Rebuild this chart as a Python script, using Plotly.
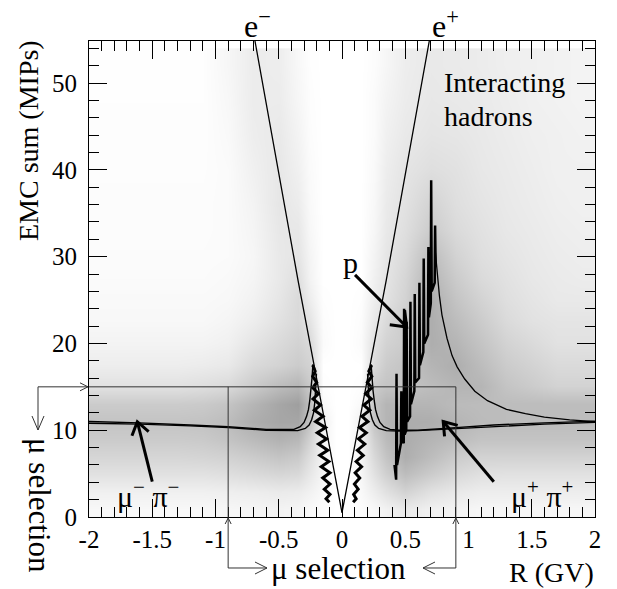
import math
import plotly.graph_objects as go

# ---------------- data ----------------
# density of the scatter cloud (0 = empty, 9 = densest), rows = EMC centres, cols = R centres
dens_R = [-1.9, -1.7, -1.5, -1.3, -1.1, -0.9, -0.7, -0.5, -0.35, -0.25, -0.15, -0.05,
          0.05, 0.15, 0.25, 0.35, 0.5, 0.7, 0.9, 1.1, 1.3, 1.5, 1.7, 1.9]
dens_E = [1, 3, 5, 7, 9, 11, 13, 15, 17.5, 20, 22.5, 25, 27.5, 30, 33, 36, 40, 44, 48, 52]
dens_Z = [
    [0.5, 0.5, 0.5, 0.5, 0.5, 0.6, 0.7, 0.8, 0.7, 0.4, 0.2, 0, 0, 0.2, 0.5, 0.9, 1.5, 1.0, 0.8, 0.6, 0.6, 0.6, 0.6, 0.6],
    [1.0, 1.0, 1.0, 1.0, 1.0, 1.1, 1.2, 1.4, 1.3, 0.9, 0.4, 0, 0, 0.4, 1.2, 2.0, 3.0, 2.0, 1.5, 1.2, 1.2, 1.2, 1.2, 1.2],
    [2.0, 2.0, 2.0, 2.0, 2.0, 2.2, 2.5, 2.8, 2.6, 1.6, 0.6, 0, 0, 0.6, 2.0, 3.2, 4.5, 3.5, 2.6, 2.1, 2.0, 2.0, 2.0, 2.0],
    [2.8, 2.8, 2.8, 2.8, 2.9, 3.1, 3.5, 4.0, 3.6, 2.2, 0.7, 0, 0, 0.7, 2.6, 4.0, 5.5, 4.5, 3.5, 3.0, 3.0, 3.0, 3.0, 3.0],
    [3.5, 3.5, 3.5, 3.5, 3.6, 4.0, 4.6, 5.2, 4.8, 3.0, 0.8, 0, 0, 0.8, 3.2, 4.6, 5.6, 5.0, 4.5, 4.0, 4.0, 4.0, 4.0, 4.0],
    [4.0, 4.0, 4.0, 4.0, 4.1, 4.5, 5.5, 6.0, 6.0, 4.0, 1.0, 0, 0, 1.0, 4.0, 5.0, 5.6, 5.5, 5.0, 4.6, 4.5, 4.5, 4.5, 4.5],
    [3.5, 3.5, 3.5, 3.5, 3.6, 4.0, 5.0, 6.0, 6.5, 4.2, 0.4, 0, 0, 0.4, 4.0, 5.0, 5.0, 5.0, 4.6, 4.5, 4.5, 4.5, 4.5, 4.5],
    [2.0, 2.0, 2.0, 2.0, 2.2, 2.5, 3.5, 4.5, 5.0, 3.6, 0.1, 0, 0, 0.1, 3.5, 4.0, 4.0, 4.5, 5.0, 5.0, 4.0, 3.5, 3.0, 3.0],
    [1.2, 1.2, 1.2, 1.2, 1.3, 1.5, 2.5, 3.0, 3.5, 3.0, 0, 0, 0, 0, 2.5, 3.5, 4.0, 5.0, 5.5, 4.5, 3.5, 3.0, 2.5, 2.5],
    [0.8, 0.8, 0.8, 0.8, 0.8, 1.0, 1.8, 2.5, 3.0, 2.5, 0.3, 0, 0, 0.3, 2.0, 3.0, 3.5, 5.5, 5.0, 4.0, 3.0, 2.5, 2.0, 2.0],
    [0.5, 0.5, 0.5, 0.5, 0.5, 0.7, 1.2, 2.0, 2.6, 1.8, 0.2, 0, 0, 0.2, 1.5, 2.5, 3.5, 5.5, 4.5, 3.5, 2.5, 2.0, 1.8, 1.8],
    [0.4, 0.4, 0.4, 0.4, 0.4, 0.5, 0.9, 1.7, 2.5, 1.2, 0.1, 0, 0, 0.1, 1.2, 2.0, 3.0, 5.5, 4.0, 3.0, 2.2, 1.8, 1.5, 1.5],
    [0.3, 0.3, 0.3, 0.3, 0.3, 0.4, 0.7, 1.5, 2.2, 0.8, 0, 0, 0, 0, 1.0, 1.8, 2.8, 5.0, 3.5, 2.5, 2.0, 1.6, 1.4, 1.3],
    [0.25, 0.25, 0.25, 0.25, 0.25, 0.3, 0.6, 1.5, 1.8, 0.7, 0, 0, 0, 0, 0.8, 1.7, 2.5, 4.5, 3.0, 2.2, 1.8, 1.5, 1.3, 1.2],
    [0.2, 0.2, 0.2, 0.2, 0.2, 0.3, 0.7, 1.6, 1.6, 0.5, 0, 0, 0, 0, 0.6, 1.5, 2.2, 3.5, 2.5, 2.0, 1.6, 1.4, 1.2, 1.1],
    [0.2, 0.2, 0.2, 0.2, 0.2, 0.3, 0.8, 1.7, 1.3, 0.4, 0, 0, 0, 0, 0.5, 1.4, 2.0, 3.0, 2.2, 1.8, 1.5, 1.3, 1.1, 1.0],
    [0.15, 0.15, 0.15, 0.15, 0.15, 0.3, 1.0, 1.6, 1.0, 0.3, 0, 0, 0, 0, 0.4, 1.2, 1.8, 2.2, 2.0, 1.6, 1.4, 1.2, 1.0, 1.0],
    [0.12, 0.12, 0.12, 0.12, 0.12, 0.4, 1.2, 1.5, 0.8, 0.2, 0, 0, 0, 0, 0.3, 1.0, 1.5, 1.8, 1.7, 1.5, 1.3, 1.1, 1.0, 0.9],
    [0.1, 0.1, 0.1, 0.1, 0.1, 0.5, 1.3, 1.3, 0.6, 0.15, 0, 0, 0, 0, 0.3, 0.8, 1.3, 1.6, 1.5, 1.4, 1.2, 1.0, 0.9, 0.8],
    [0.1, 0.1, 0.1, 0.1, 0.1, 0.6, 1.3, 1.2, 0.5, 0.1, 0, 0, 0, 0, 0.2, 0.6, 1.2, 1.5, 1.4, 1.3, 1.1, 1.0, 0.9, 0.8],
]

# electron / positron lines
em_R = [0.0, -0.188, -0.348, -0.688]
em_E = [0.5, 15.0, 27.3, 54.85]
ep_R = [0.0, 0.188, 0.350, 0.690]
ep_E = [0.5, 15.0, 27.3, 54.85]

# muon / pion bands, negative side
piN_R = [-2.0, -1.6, -1.2, -0.9, -0.6, -0.45, -0.38, -0.33, -0.30, -0.28, -0.265, -0.255, -0.245, -0.237, -0.23]
piN_E = [11.0, 10.85, 10.6, 10.4, 10.1, 10.05, 10.1, 10.4, 10.9, 11.6, 12.4, 13.4, 14.6, 16.0, 17.6]
muN_R = [-2.0, -1.6, -1.2, -0.9, -0.6, -0.45, -0.35, -0.29, -0.26, -0.24, -0.225, -0.215, -0.208, -0.202]
muN_E = [10.8, 10.7, 10.5, 10.3, 10.0, 9.95, 9.95, 10.2, 10.6, 11.2, 12.0, 13.2, 14.6, 16.5]
# positive side
piP_R = [0.23, 0.237, 0.245, 0.255, 0.265, 0.28, 0.30, 0.33, 0.38, 0.45, 0.6, 0.9, 1.2, 1.6, 2.0]
piP_E = [17.6, 16.0, 14.6, 13.4, 12.4, 11.6, 10.9, 10.4, 10.1, 10.0, 10.0, 10.3, 10.6, 10.85, 11.05]
muP_R = [0.202, 0.208, 0.215, 0.225, 0.24, 0.26, 0.29, 0.35, 0.45, 0.6, 0.9, 1.2, 1.6, 2.0]
muP_E = [16.5, 14.6, 13.2, 12.0, 11.2, 10.6, 10.2, 9.95, 9.9, 9.95, 10.2, 10.45, 10.7, 10.9]

# jagged (stopping) tracks along the e lines
jag_E = [17.5, 16.8, 16.2, 15.5, 14.9, 14.2, 13.6, 12.9, 12.3, 11.6, 11.0, 10.3, 9.7,
         9.0, 8.4, 7.7, 7.1, 6.4, 5.8, 5.1, 4.5, 3.8, 3.2, 2.6, 2.1, 1.7]
jagN_R = [-0.232, -0.212, -0.232, -0.200, -0.231, -0.186, -0.229, -0.170, -0.219, -0.150, -0.208, -0.130, -0.195,
          -0.122, -0.186, -0.113, -0.176, -0.104, -0.164, -0.095, -0.152, -0.095, -0.140, -0.095, -0.126, -0.100]
jagP_R = [0.235, 0.212, 0.236, 0.200, 0.236, 0.186, 0.232, 0.172, 0.220, 0.158, 0.205, 0.138, 0.192,
          0.130, 0.180, 0.122, 0.168, 0.112, 0.155, 0.104, 0.140, 0.098, 0.128, 0.092, 0.112, 0.088]

# proton spikes and proton band
pspk_R = [0.415, 0.428, 0.431, 0.435, 0.466, 0.469, 0.472, 0.488, 0.491, 0.495, 0.508, 0.511, 0.515,
          0.538, 0.541, 0.545, 0.572, 0.575, 0.579, 0.609, 0.612, 0.616, 0.643, 0.646, 0.650,
          0.680, 0.683, 0.687, 0.702, 0.705, 0.709, 0.733, 0.736, 0.740]
pspk_E = [6.0, 4.3, 16.5, 6.0, 8.5, 14.5, 9.0, 8.5, 24.0, 9.5, 10.0, 22.5, 11.0,
          11.6, 24.8, 13.0, 14.5, 25.7, 15.5, 16.0, 27.0, 17.5, 19.0, 29.8, 20.0,
          21.0, 31.1, 23.0, 24.6, 38.8, 26.0, 27.0, 33.6, 29.0]
prot_R = [0.735, 0.75, 0.77, 0.79, 0.83, 0.87, 0.91, 0.97, 1.05, 1.15, 1.3, 1.45, 1.6, 1.8, 2.0]
prot_E = [31.0, 28.3, 25.5, 23.3, 20.6, 18.6, 17.3, 15.9, 14.5, 13.4, 12.4, 11.9, 11.5, 11.2, 11.0]

# muon selection window
sel_R = 0.9
sel_E = 15.0

x_ticks = [-2, -1.5, -1, -0.5, 0, 0.5, 1, 1.5, 2]
x_tick_text = ["-2", "-1.5", "-1", "-0.5", "0", "0.5", "1", "1.5", "2"]
y_ticks = [0, 10, 20, 30, 40, 50]

# ---------------- geometry helpers ----------------
W, H = 617, 589
ML, MR, MT, MB = 89, 22, 41, 72
XR = [-2, 2]
YR = [0, 54.85]
PW, PH = W - ML - MR, H - MT - MB


def px(R):
    return ML + (R - XR[0]) / (XR[1] - XR[0]) * PW


def py(E):
    return MT + PH - (E - YR[0]) / (YR[1] - YR[0]) * PH


def fx(p):
    return (p - ML) / PW


def fy(p):
    return (MT + PH - p) / PH


FONT = "Liberation Serif"
fig = go.Figure()

fig.add_trace(go.Heatmap(x=dens_R, y=dens_E, z=dens_Z, zmin=0, zmax=9, zsmooth="best",
                         colorscale=[[0, "#ffffff"], [1, "#7a7a7a"]], showscale=False,
                         hoverinfo="skip"))


def line(xs, ys, w=1.3):
    fig.add_trace(go.Scatter(x=xs, y=ys, mode="lines", line=dict(color="black", width=w),
                             hoverinfo="skip", showlegend=False))


line(em_R, em_E, 1.3)
line(ep_R, ep_E, 1.3)
line(piN_R, piN_E, 1.4)
line(muN_R, muN_E, 1.4)
line(piP_R, piP_E, 1.4)
line(muP_R, muP_E, 1.4)
line(jagN_R, jag_E, 3.0)
line(jagP_R, jag_E, 3.0)
line(pspk_R, pspk_E, 2.5)
line(prot_R, prot_E, 1.3)

shapes = []
GRAY = "#333333"
# selection window inside plot
shapes.append(dict(type="line", xref="x", yref="y", x0=XR[0], x1=sel_R, y0=sel_E, y1=sel_E,
                   line=dict(color=GRAY, width=1)))
for s in (-1, 1):
    xp = fx(px(s * sel_R))
    shapes.append(dict(type="line", xref="paper", yref="paper", x0=xp, x1=xp,
                       y0=fy(py(sel_E)), y1=fy(568), line=dict(color=GRAY, width=1)))


def P(xp, yp):
    return fx(xp), fy(yp)


def path(points):
    d = ""
    for i, (a, b) in enumerate(points):
        X, Y = P(a, b)
        d += ("M" if i == 0 else " L") + f" {X:.5f} {Y:.5f}"
    return d


def pshape(points, color=GRAY, width=1):
    shapes.append(dict(type="path", xref="paper", yref="paper",
                       line=dict(color=color, width=width), path=path(points)))


ys = py(sel_E)
# left outside arrows
pshape([(38, 430), (38, ys), (ML - 1, ys)])
pshape([(ML - 9, ys - 4), (ML - 1, ys), (ML - 9, ys + 4)])
pshape([(32, 416), (38, 430), (44, 416)])
# bottom outside arrows
xl, xr_ = px(-sel_R), px(sel_R)
pshape([(xl, 568), (267, 568)])
pshape([(255, 562), (267, 568), (255, 574)])
pshape([(xr_, 568), (423, 568)])
pshape([(435, 562), (423, 568), (435, 574)])
for xx in (xl, xr_):
    pshape([(xx - 3, 524), (xx, 518), (xx + 3, 524)])


# thick arrows pointing at the bands
def arrow(tip, tail, L=16, ang=35):
    tx, ty = px(tip[0]), py(tip[1])
    sx, sy = px(tail[0]), py(tail[1])
    dx, dy = sx - tx, sy - ty
    n = math.hypot(dx, dy)
    dx, dy = dx / n, dy / n
    pts = []
    for a in (ang, -ang):
        r = math.radians(a)
        rx = dx * math.cos(r) - dy * math.sin(r)
        ry = dx * math.sin(r) + dy * math.cos(r)
        pts.append((tx + L * rx, ty + L * ry))
    pshape([(sx, sy), (tx, ty)], "black", 3)
    pshape([pts[0], (tx, ty), pts[1]], "black", 3)


arrow((-1.618, 10.98), (-1.50, 4.07), L=15, ang=35)
arrow((0.80, 11.0), (1.20, 4.07), L=15, ang=35)
arrow((0.511, 21.9), (0.103, 27.9), L=17, ang=38)

ann = []


def text(t, xp, yp, size, angle=0, xanchor="center"):
    X, Y = P(xp, yp)
    ann.append(dict(text=t, x=X, y=Y, xref="paper", yref="paper", showarrow=False,
                    xanchor=xanchor, yanchor="middle", textangle=angle,
                    font=dict(family=FONT, size=size, color="black")))


text("e<sup>−</sup>", 257, 24, 32)
text("e<sup>+</sup>", 445, 24, 32)
text("Interacting", 442, 82, 28, xanchor="left")
text("hadrons", 442, 116, 28, xanchor="left")
text("p", 350, 262, 30)
text("μ<sup>−</sup> π<sup>−</sup>", 148, 494, 30)
text("μ<sup>+</sup> π<sup>+</sup>", 542, 494, 30)
text("μ selection", 338, 568, 31)
text("μ selection", 40, 505, 31, angle=90)
text("EMC sum (MIPs)", 28, 141, 28, angle=-90)
text("R (GV)", 551, 572, 28)

axis_common = dict(showline=True, linecolor="black", linewidth=1, mirror="ticks",
                   ticks="inside", ticklen=18, tickwidth=1, tickcolor="black",
                   showgrid=False, zeroline=False,
                   tickfont=dict(family=FONT, size=25, color="black"))

fig.update_layout(
    width=W, height=H,
    margin=dict(l=ML, r=MR, t=MT, b=MB),
    paper_bgcolor="white", plot_bgcolor="white",
    showlegend=False,
    xaxis=dict(range=XR, tickmode="array", tickvals=x_ticks, ticktext=x_tick_text,
               minor=dict(dtick=0.1, tick0=0, ticks="inside", ticklen=10, tickcolor="black", tickwidth=1),
               ticklabelstandoff=0, **axis_common),
    yaxis=dict(range=YR, tickmode="array", tickvals=y_ticks,
               minor=dict(dtick=2, tick0=0, ticks="inside", ticklen=10, tickcolor="black", tickwidth=1),
               ticklabelstandoff=6, **axis_common),
    shapes=shapes,
    annotations=ann,
)

fig.write_html("out.html")
